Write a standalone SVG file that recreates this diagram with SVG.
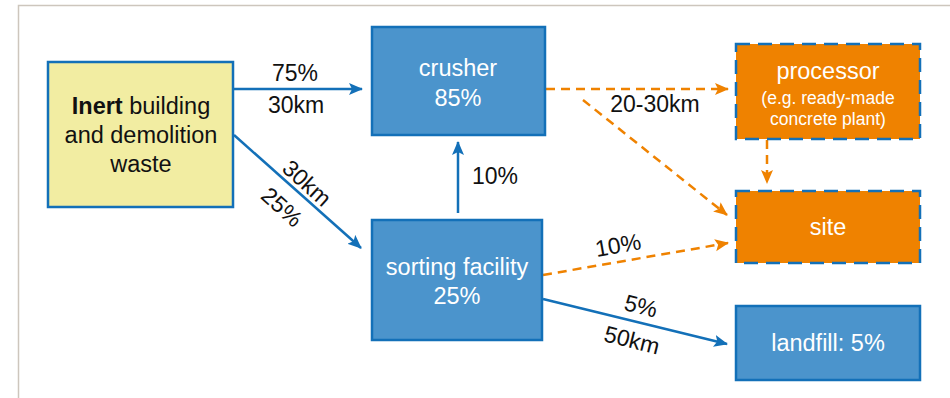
<svg xmlns="http://www.w3.org/2000/svg" width="950" height="398" viewBox="0 0 950 398">
<style>
text{font-family:"Liberation Sans",Arial,sans-serif}
.lbl{font-size:23px;fill:#111;text-anchor:middle}
.wt{fill:#fff;text-anchor:middle}
.blue{fill:#4b94cc;stroke:#1370b8;stroke-width:2.5}
.org{fill:#ef8200;stroke:#1370b8;stroke-width:2.5;stroke-dasharray:14 8}
.cb{stroke:#1370b8;stroke-width:2.5;fill:none}
.co{stroke:#ef8200;stroke-width:2.5;fill:none;stroke-dasharray:9 6}
</style>
<defs>
<marker id="ab" markerUnits="userSpaceOnUse" markerWidth="16" markerHeight="14" refX="13" refY="6" orient="auto">
<path d="M0,0 L14,6 L0,12 L3,6 z" fill="#1370b8"/>
</marker>
<marker id="ao" markerUnits="userSpaceOnUse" markerWidth="16" markerHeight="14" refX="13" refY="6" orient="auto">
<path d="M0,0 L14,6 L0,12 L3,6 z" fill="#ef8200"/>
</marker>
</defs>
<rect width="950" height="398" fill="#fff"/>
<path d="M18.5,398 V5.5 H950" fill="none" stroke="#cdc6bd" stroke-width="1.5"/>
<g id="connectors">
<line class="cb" x1="234" y1="89" x2="362" y2="89" marker-end="url(#ab)"/>
<line class="cb" x1="234" y1="135" x2="361" y2="248" marker-end="url(#ab)"/>
<line class="cb" x1="458" y1="213" x2="458" y2="142" marker-end="url(#ab)"/>
<line class="co" x1="546" y1="89" x2="728" y2="89" marker-end="url(#ao)"/>
<line class="co" x1="583" y1="100" x2="727" y2="215" marker-end="url(#ao)"/>
<line class="co" x1="767" y1="140" x2="767" y2="183" marker-end="url(#ao)"/>
<line class="co" x1="543" y1="275" x2="728" y2="243" marker-end="url(#ao)"/>
<line class="cb" x1="543" y1="299" x2="727" y2="344" marker-end="url(#ab)"/>
<text class="lbl" x="295" y="81">75%</text>
<text class="lbl" x="296" y="113">30km</text>
<text class="lbl" transform="translate(307,183) rotate(42)" y="8">30km</text>
<text class="lbl" transform="translate(282,207) rotate(42)" y="8">25%</text>
<text class="lbl" x="495" y="184">10%</text>
<text class="lbl" x="655" y="112">20-30km</text>
<text class="lbl" transform="translate(618,245) rotate(-10)" y="8">10%</text>
<text class="lbl" transform="translate(641,306) rotate(14)" y="8">5%</text>
<text class="lbl" transform="translate(632,340) rotate(14)" y="8">50km</text>
</g>
<g id="inert">
<rect x="48" y="62" width="185" height="145" fill="#f2eda2" stroke="#1370b8" stroke-width="2.5"/>
<text class="lbl" x="141" y="114" style="font-size:23.5px"><tspan font-weight="bold">Inert</tspan> building</text>
<text class="lbl" x="141" y="143" style="font-size:23.5px">and demolition</text>
<text class="lbl" x="141" y="172" style="font-size:23.5px">waste</text>
</g>
<g id="crusher">
<rect class="blue" x="372" y="27" width="173" height="108"/>
<text class="wt" x="458" y="76" font-size="23.5">crusher</text>
<text class="wt" x="458" y="106" font-size="23.5">85%</text>
</g>
<g id="sorting">
<rect class="blue" x="372" y="220" width="170" height="120"/>
<text class="wt" x="457" y="275" font-size="23.5">sorting facility</text>
<text class="wt" x="457" y="304" font-size="23.5">25%</text>
</g>
<g id="processor">
<rect class="org" x="736" y="44" width="184" height="95"/>
<text class="wt" x="828" y="79" font-size="23.5">processor</text>
<text class="wt" x="828" y="104" font-size="17.5">(e.g. ready-made</text>
<text class="wt" x="828" y="125" font-size="17.5">concrete plant)</text>
</g>
<g id="site">
<rect class="org" x="736" y="191" width="184" height="72"/>
<text class="wt" x="828" y="235" font-size="23.5">site</text>
</g>
<g id="landfill">
<rect class="blue" x="736" y="306" width="184" height="74"/>
<text class="wt" x="828" y="351" font-size="23.5">landfill: 5%</text>
</g>
</svg>
